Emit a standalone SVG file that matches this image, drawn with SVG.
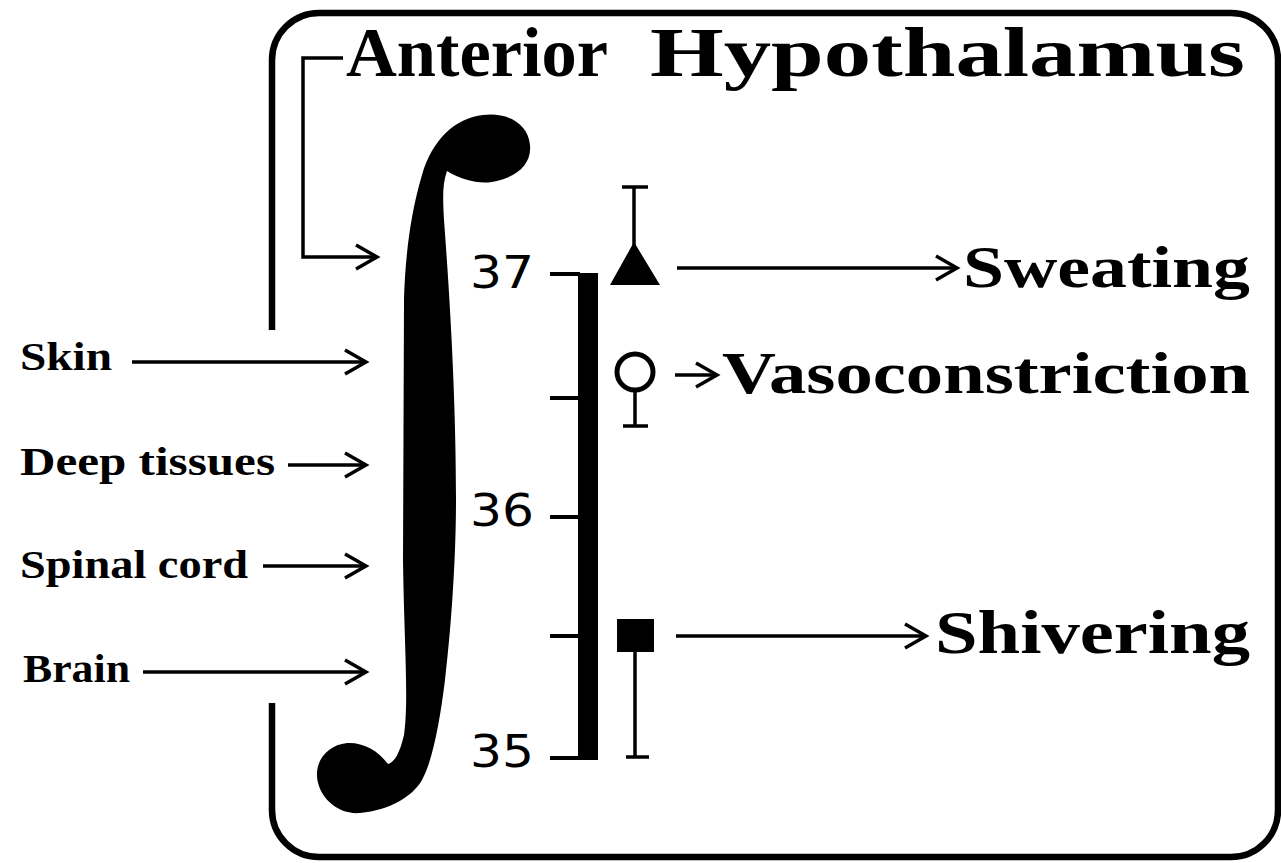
<svg xmlns="http://www.w3.org/2000/svg" width="1281" height="863" viewBox="0 0 1281 863">
<defs>
<style>
.lbl{font-family:"Liberation Serif","Times New Roman",serif;font-weight:bold;fill:#000}
.num{font-family:"DejaVu Sans","Liberation Sans",sans-serif;font-size:44px;fill:#000}
.ln{stroke:#000;stroke-width:3.5;fill:none}
.tick{stroke:#000;stroke-width:4;fill:none}
</style>
<marker id="ah" viewBox="-25 -15 29 30" markerWidth="29" markerHeight="30" refX="0" refY="0" orient="auto" markerUnits="userSpaceOnUse">
<path d="M-21,-12 L0,0 L-21,12" fill="none" stroke="#000" stroke-width="3.5"/>
</marker>
</defs>
<rect width="1281" height="863" fill="#fff"/>

<g id="frame">
<path d="M272,330 L272,60 A47,47 0 0 1 319,13 L1231,13 A47,47 0 0 1 1278,60 L1278,810 A47,47 0 0 1 1231,857 L319,857 A47,47 0 0 1 272,810 L272,703" fill="none" stroke="#000" stroke-width="6.5"/>
</g>

<g id="title">
<text class="lbl" font-size="69" y="76" xml:space="preserve"><tspan x="346" textLength="262" lengthAdjust="spacingAndGlyphs">Anterior</tspan><tspan x="650" textLength="595" lengthAdjust="spacingAndGlyphs">Hypothalamus</tspan></text>
</g>

<g id="integral">
<path d="M447,171 C462,180 478,184 492,182 C515,178 532,165 530,145 C528,122 505,112 483,115 C455,118 432,140 422,175 C410,215 405,260 404,300 L403,560 C404,640 409,700 404,735 C400,752 395,762 388,764 C378,750 362,742 347,743 C328,745 316,760 317,776 C318,797 338,815 360,813 C390,810 412,797 422,780 C433,760 440,720 445,680 C451,630 456,560 456,500 C456,400 450,300 444,220 C443,200 442,185 447,171 Z" fill="#000"/>
</g>

<g id="inputs">
<text class="lbl" font-size="39" x="20" y="370" textLength="92" lengthAdjust="spacingAndGlyphs">Skin</text>
<text class="lbl" font-size="39" x="20" y="475" textLength="255" lengthAdjust="spacingAndGlyphs">Deep tissues</text>
<text class="lbl" font-size="39" x="20" y="578" textLength="228" lengthAdjust="spacingAndGlyphs">Spinal cord</text>
<text class="lbl" font-size="39" x="23" y="682" textLength="107" lengthAdjust="spacingAndGlyphs">Brain</text>
</g>

<g id="scale">
<rect x="578" y="273" width="20" height="487" fill="#000"/>
<line class="tick" x1="550" y1="274" x2="580" y2="274"/>
<line class="tick" x1="550" y1="398" x2="580" y2="398"/>
<line class="tick" x1="550" y1="517" x2="580" y2="517"/>
<line class="tick" x1="550" y1="636" x2="580" y2="636"/>
<line class="tick" x1="550" y1="758" x2="580" y2="758"/>
<text class="num" x="470" y="288" textLength="64" lengthAdjust="spacingAndGlyphs">37</text>
<text class="num" x="470" y="526" textLength="64" lengthAdjust="spacingAndGlyphs">36</text>
<text class="num" x="470" y="767" textLength="64" lengthAdjust="spacingAndGlyphs">35</text>
</g>

<g id="sweating">
<line class="ln" x1="634" y1="187" x2="634" y2="245"/>
<line class="ln" x1="622" y1="187" x2="648" y2="187"/>
<polygon points="610,285 660,285 634,242" fill="#000"/>
<text class="lbl" font-size="60" x="963" y="287" textLength="287" lengthAdjust="spacingAndGlyphs">Sweating</text>
</g>

<g id="vasoconstriction">
<circle cx="635" cy="372" r="18" fill="none" stroke="#000" stroke-width="5"/>
<line class="ln" x1="635" y1="390" x2="635" y2="426"/>
<line class="ln" x1="623" y1="426" x2="648" y2="426"/>
<text class="lbl" font-size="60" x="722" y="393" textLength="528" lengthAdjust="spacingAndGlyphs">Vasoconstriction</text>
</g>

<g id="shivering">
<rect x="617" y="619" width="37" height="33" fill="#000"/>
<line class="ln" x1="635" y1="652" x2="635" y2="757"/>
<line class="ln" x1="626" y1="757" x2="649" y2="757"/>
<text class="lbl" font-size="61" x="935" y="653" textLength="315" lengthAdjust="spacingAndGlyphs">Shivering</text>
</g>

<g id="connectors">
<path class="ln" d="M343,58 L303,58 L303,257 L377,257" marker-end="url(#ah)"/>
<line class="ln" x1="132" y1="362" x2="366" y2="362" marker-end="url(#ah)"/>
<line class="ln" x1="288" y1="465" x2="366" y2="465" marker-end="url(#ah)"/>
<line class="ln" x1="263" y1="566" x2="366" y2="566" marker-end="url(#ah)"/>
<line class="ln" x1="143" y1="672" x2="366" y2="672" marker-end="url(#ah)"/>
<line class="ln" x1="677" y1="268" x2="957" y2="268" marker-end="url(#ah)"/>
<line class="ln" x1="675" y1="375" x2="717" y2="375" marker-end="url(#ah)"/>
<line class="ln" x1="676" y1="636" x2="926" y2="636" marker-end="url(#ah)"/>
</g>
</svg>
